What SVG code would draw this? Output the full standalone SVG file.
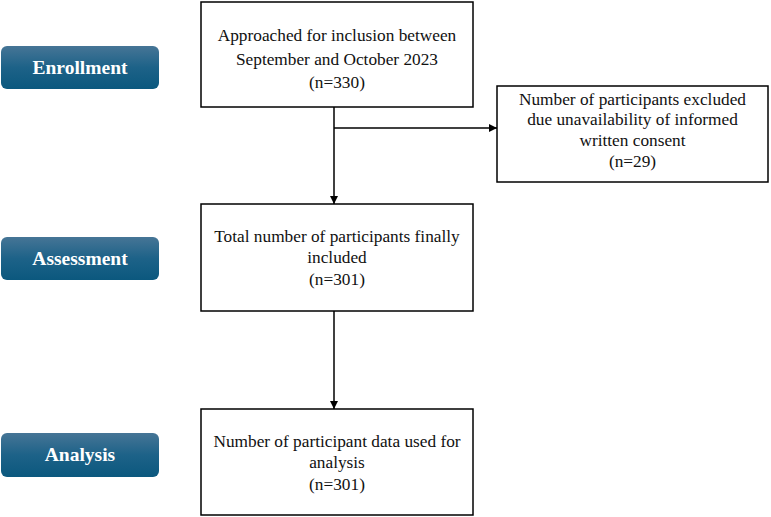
<svg xmlns="http://www.w3.org/2000/svg" width="771" height="517" viewBox="0 0 771 517">
<defs>
<linearGradient id="btn" x1="0" y1="0" x2="0" y2="1">
<stop offset="0" stop-color="#467596"/>
<stop offset="0.5" stop-color="#1d6288"/>
<stop offset="1" stop-color="#0b587e"/>
</linearGradient>
<marker id="arr" viewBox="0 0 10 10" refX="10" refY="5" markerWidth="8" markerHeight="8" markerUnits="userSpaceOnUse" orient="auto">
<path d="M0,0 L10,5 L0,10 z" fill="#000"/>
</marker>
<style>
.box{fill:#fff;stroke:#000;stroke-width:1.5}
.t{font-family:"Liberation Serif","Times New Roman",serif;font-size:17.3px;fill:#111;text-anchor:middle}
.b{font-family:"Liberation Serif","Times New Roman",serif;font-size:19.5px;font-weight:bold;fill:#fff;text-anchor:middle}
.btn{fill:url(#btn)}
.ln{stroke:#000;stroke-width:1.5;fill:none}
</style>
</defs>
<rect width="771" height="517" fill="#fff"/>
<g id="enrollment">
<rect class="btn" x="1" y="46" width="158" height="43" rx="6"/>
<text class="b" x="80" y="74">Enrollment</text>
</g>
<g id="assessment">
<rect class="btn" x="1" y="237" width="158" height="43" rx="6"/>
<text class="b" x="80" y="265">Assessment</text>
</g>
<g id="analysis">
<rect class="btn" x="1" y="433" width="158" height="44" rx="6"/>
<text class="b" x="80" y="461">Analysis</text>
</g>
<g id="approached">
<rect class="box" x="201" y="2" width="272" height="105"/>
<text class="t" x="337" y="41">Approached for inclusion between</text>
<text class="t" x="337" y="65">September and October 2023</text>
<text class="t" x="337" y="88">(n=330)</text>
</g>
<g id="excluded">
<rect class="box" x="497" y="86" width="271" height="96"/>
<text class="t" x="632.5" y="105">Number of participants excluded</text>
<text class="t" x="632.5" y="125">due unavailability of informed</text>
<text class="t" x="632.5" y="146">written consent</text>
<text class="t" x="632.5" y="167">(n=29)</text>
</g>
<g id="included">
<rect class="box" x="201" y="204" width="272" height="107"/>
<text class="t" x="337" y="242">Total number of participants finally</text>
<text class="t" x="337" y="263">included</text>
<text class="t" x="337" y="285">(n=301)</text>
</g>
<g id="analysed">
<rect class="box" x="201" y="409" width="272" height="106"/>
<text class="t" x="337" y="447">Number of participant data used for</text>
<text class="t" x="337" y="468">analysis</text>
<text class="t" x="337" y="490">(n=301)</text>
</g>
<g id="connectors">
<line class="ln" x1="334" y1="107" x2="334" y2="204" marker-end="url(#arr)"/>
<line class="ln" x1="334" y1="128" x2="497" y2="128" marker-end="url(#arr)"/>
<line class="ln" x1="334" y1="311" x2="334" y2="409" marker-end="url(#arr)"/>
</g>
</svg>
